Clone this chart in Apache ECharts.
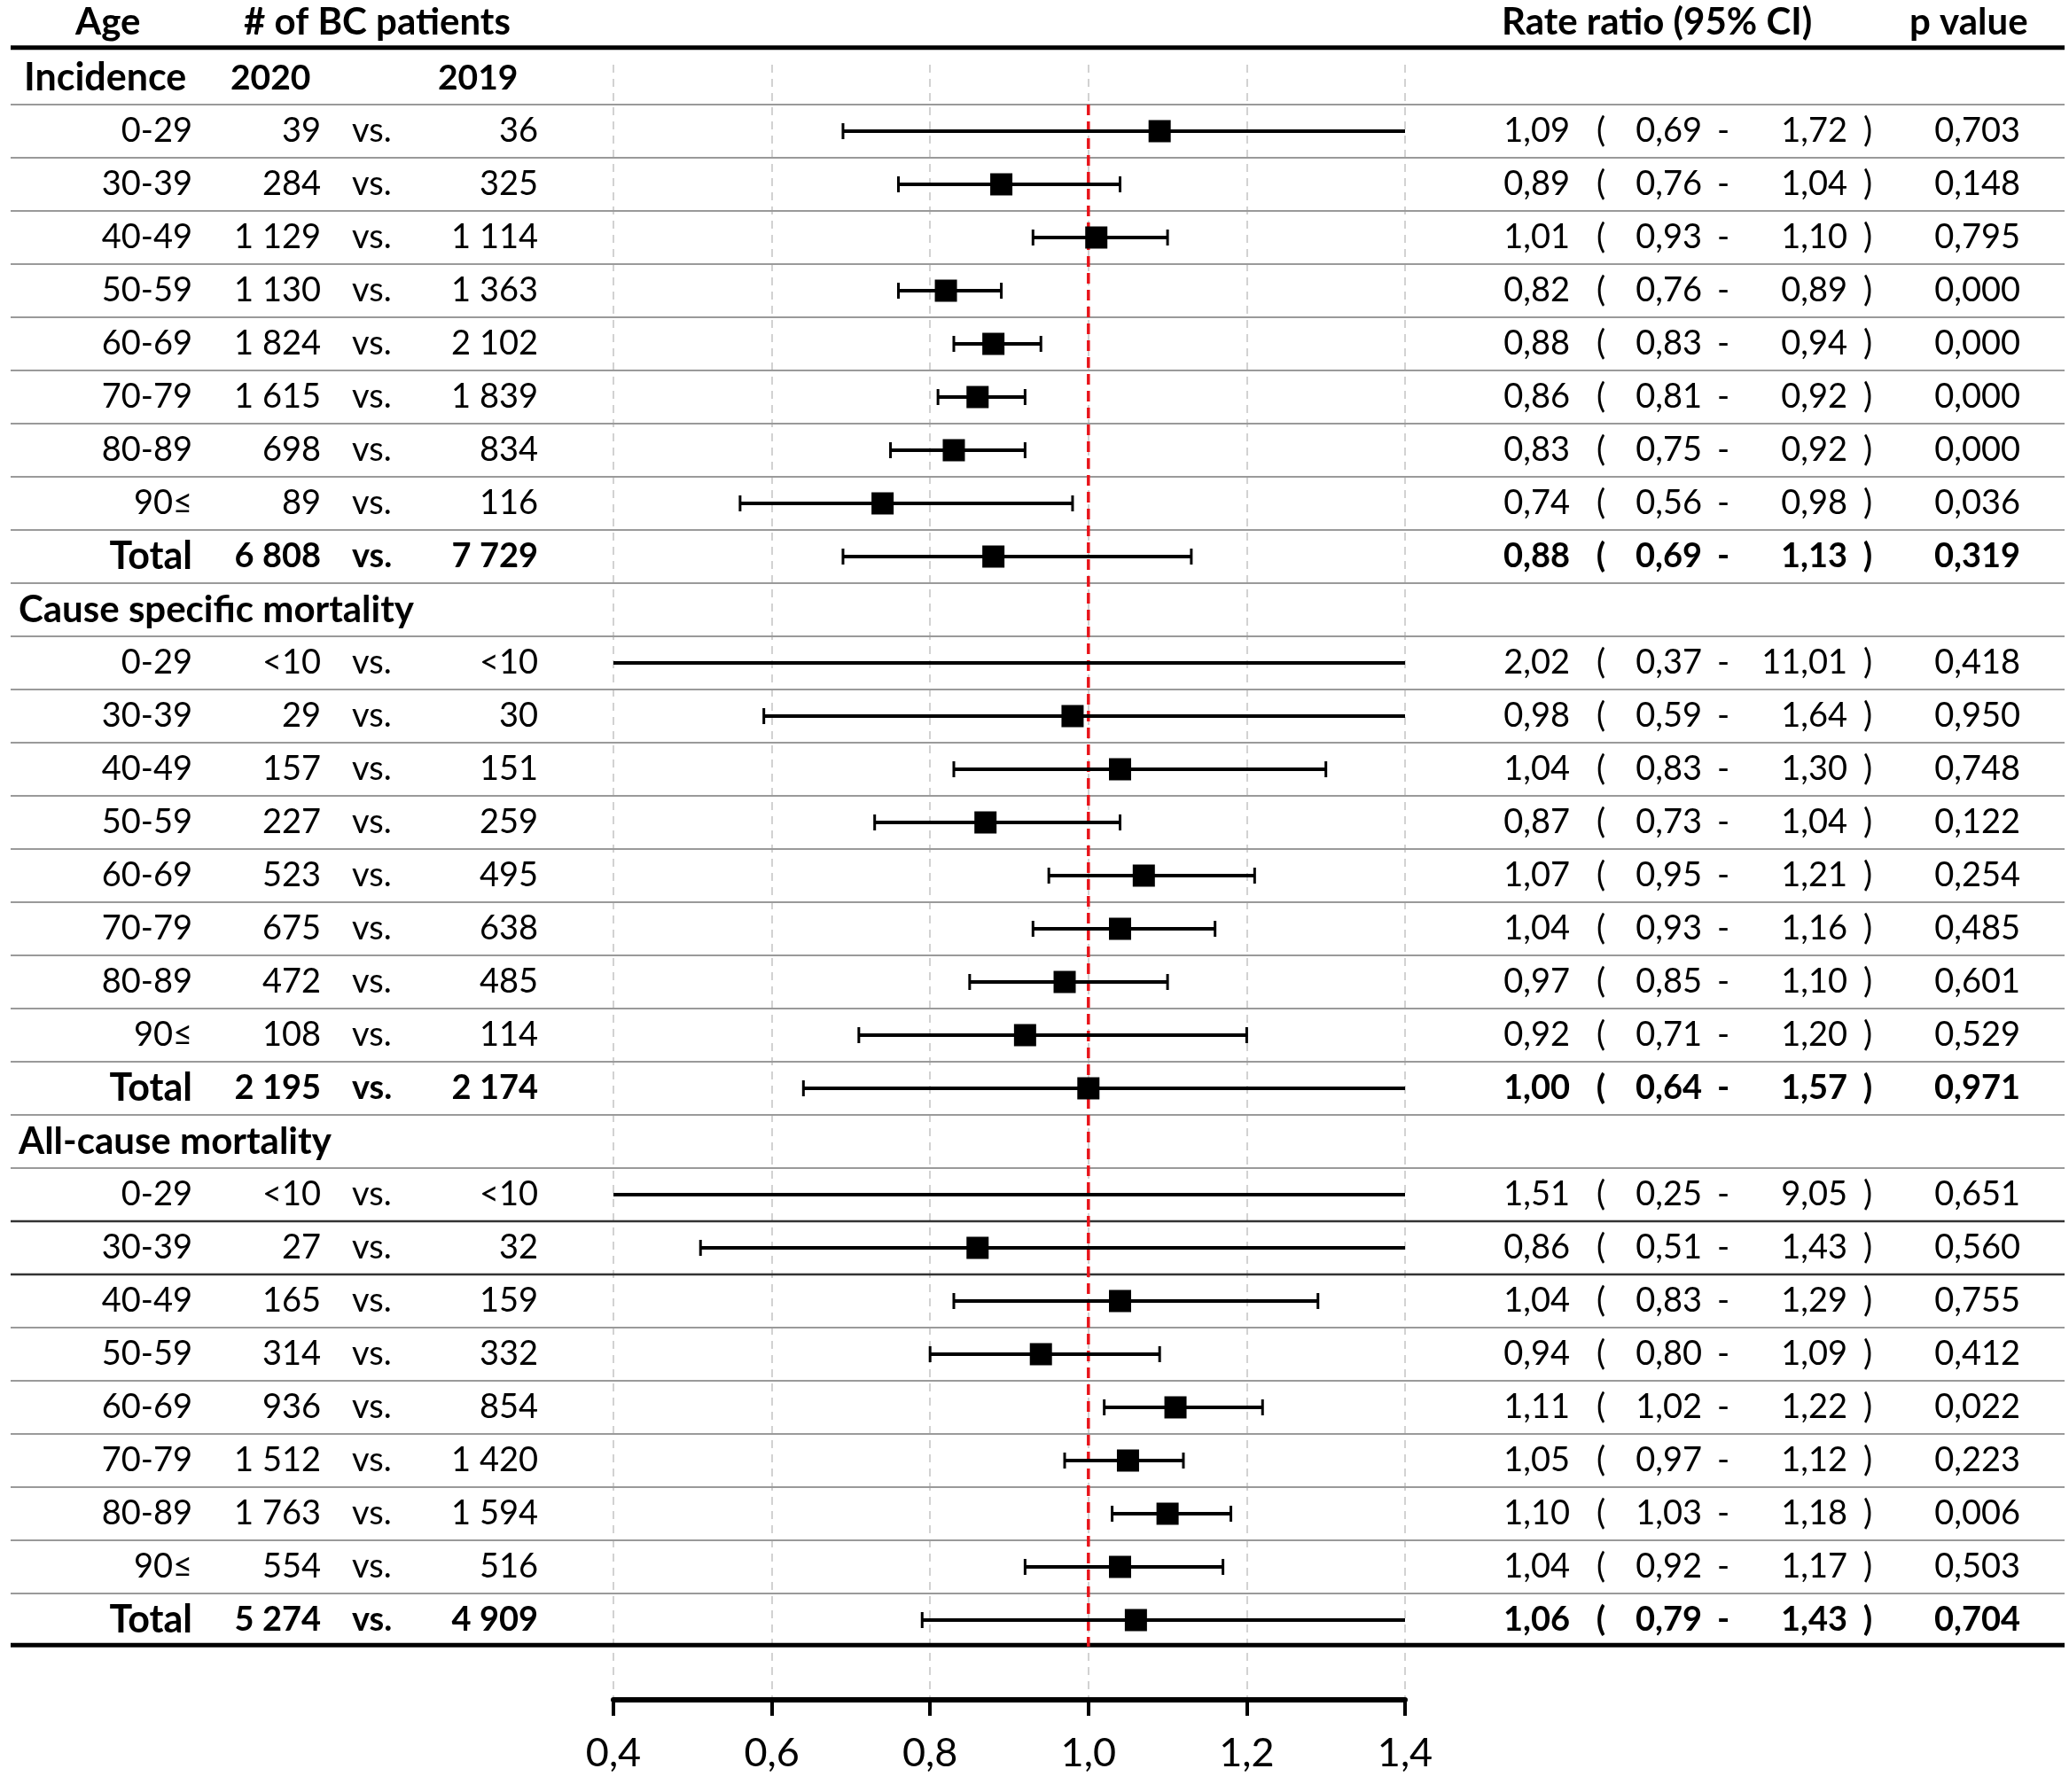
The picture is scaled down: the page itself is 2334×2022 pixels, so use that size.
<!DOCTYPE html>
<html>
<head>
<meta charset="utf-8">
<script src="https://cdn.jsdelivr.net/npm/echarts@6/dist/echarts.min.js"></script>
<style>
html, body { margin: 0; padding: 0; background: #fff; }
#forest { width: 2334px; height: 2022px; }
</style>
</head>
<body>
<div id="forest"></div>
<script>
// data
var sections = ['Incidence', 'Cause specific mortality', 'All-cause mortality'];
var ageGroups = ['0-29', '30-39', '40-49', '50-59', '60-69', '70-79', '80-89', '90≤', 'Total'];

var incN2020 = [39, 284, 1129, 1130, 1824, 1615, 698, 89, 6808];
var incN2019 = [36, 325, 1114, 1363, 2102, 1839, 834, 116, 7729];
var incRR   = [1.09, 0.89, 1.01, 0.82, 0.88, 0.86, 0.83, 0.74, 0.88];
var incLow  = [0.69, 0.76, 0.93, 0.76, 0.83, 0.81, 0.75, 0.56, 0.69];
var incHigh = [1.72, 1.04, 1.10, 0.89, 0.94, 0.92, 0.92, 0.98, 1.13];
var incP    = [0.703, 0.148, 0.795, 0.000, 0.000, 0.000, 0.000, 0.036, 0.319];

var csmN2020 = ['<10', 29, 157, 227, 523, 675, 472, 108, 2195];
var csmN2019 = ['<10', 30, 151, 259, 495, 638, 485, 114, 2174];
var csmRR   = [2.02, 0.98, 1.04, 0.87, 1.07, 1.04, 0.97, 0.92, 1.00];
var csmLow  = [0.37, 0.59, 0.83, 0.73, 0.95, 0.93, 0.85, 0.71, 0.64];
var csmHigh = [11.01, 1.64, 1.30, 1.04, 1.21, 1.16, 1.10, 1.20, 1.57];
var csmP    = [0.418, 0.950, 0.748, 0.122, 0.254, 0.485, 0.601, 0.529, 0.971];

var acmN2020 = ['<10', 27, 165, 314, 936, 1512, 1763, 554, 5274];
var acmN2019 = ['<10', 32, 159, 332, 854, 1420, 1594, 516, 4909];
var acmRR   = [1.51, 0.86, 1.04, 0.94, 1.11, 1.05, 1.10, 1.04, 1.06];
var acmLow  = [0.25, 0.51, 0.83, 0.80, 1.02, 0.97, 1.03, 0.92, 0.79];
var acmHigh = [9.05, 1.43, 1.29, 1.09, 1.22, 1.12, 1.18, 1.17, 1.43];
var acmP    = [0.651, 0.560, 0.755, 0.412, 0.022, 0.223, 0.006, 0.503, 0.704];

var xTicks = [0.4, 0.6, 0.8, 1.0, 1.2, 1.4];
var refValue = 1.0;

var headers = ['Age', '# of BC patients', 'Rate ratio (95% CI)', 'p value'];
var yearLabels = ['2020', '2019'];

// layout
var FONT = 'Lato, "Open Sans", "DejaVu Sans", sans-serif';
var TEXT_SIZE = 38;     // numbers
var HEAD_SIZE = 42;     // headings / section names
var W = 2334, H = 2022;
var ROW0_Y = 88, ROW_H = 60;   // pixel centre of row 0 and row height

var sectionData = [
  { n2020: incN2020, n2019: incN2019, rr: incRR, low: incLow, high: incHigh, p: incP },
  { n2020: csmN2020, n2019: csmN2019, rr: csmRR, low: csmLow, high: csmHigh, p: csmP },
  { n2020: acmN2020, n2019: acmN2019, rr: acmRR, low: acmLow, high: acmHigh, p: acmP }
];

function fmtCount(v) {
  if (typeof v !== 'number') return v;
  return String(v).replace(/\B(?=(\d{3})+(?!\d))/g, ' ');
}
function fmtDec(v, d) {
  return v.toFixed(d).replace('.', ',');
}

// table rows: [text, x, align, bold, size]
var tableRows = [];
tableRows.push({ row: -1.05, cells: [
  [headers[0], 85, 'left', true, HEAD_SIZE],
  [headers[1], 275, 'left', true, HEAD_SIZE],
  [headers[2], 1694, 'left', true, HEAD_SIZE],
  [headers[3], 2154, 'left', true, HEAD_SIZE]
]});

var forestData = [];
sectionData.forEach(function (s, k) {
  var head = { row: k * 10, cells: [[sections[k], k === 0 ? 27 : 21, 'left', true, k === 0 ? 43 : HEAD_SIZE]] };
  if (k === 0) {
    head.cells.push([yearLabels[0], 260, 'left', true, 39]);
    head.cells.push([yearLabels[1], 494, 'left', true, 39]);
  }
  tableRows.push(head);
  ageGroups.forEach(function (age, i) {
    var row = k * 10 + 1 + i;
    var b = age === 'Total';
    tableRows.push({ row: row, cells: [
      [age, 217, 'right', b, b ? 43 : TEXT_SIZE],
      [fmtCount(s.n2020[i]), 362, 'right', b],
      ['vs.', 397, 'left', b],
      [fmtCount(s.n2019[i]), 607, 'right', b],
      [fmtDec(s.rr[i], 2), 1771, 'right', b],
      ['(', 1806, 'center', b],
      [fmtDec(s.low[i], 2), 1920, 'right', b],
      ['-', 1944, 'center', b],
      [fmtDec(s.high[i], 2), 2084, 'right', b],
      [')', 2107, 'center', b],
      [fmtDec(s.p[i], 3), 2279, 'right', b]
    ]});
    forestData.push([s.rr[i], s.low[i], s.high[i], row]);
  });
});

// horizontal rules: [row, width, color]
var rules = [[-0.57, 5, '#000'], [29.47, 5, '#000']];
for (var r = 0; r < 29; r++) {
  var dark = (r === 21 || r === 22);
  rules.push([r + 0.5, dark ? 2.5 : 2, dark ? '#333' : '#9a9a9a']);
}

var xMin = xTicks[0], xMax = xTicks[xTicks.length - 1];
var plotLeft = 692, plotRight = W - 1585;
var plotMinRow = -0.25, plotMaxRow = 30.5;

var myChart = echarts.init(document.getElementById('forest'));

var option = {
  backgroundColor: '#fff',
  animation: false,
  grid: [
    { left: plotLeft, right: plotRight, top: ROW0_Y + plotMinRow * ROW_H, bottom: H - (ROW0_Y + plotMaxRow * ROW_H) },
    { left: 0, right: 0, top: 0, bottom: 0 }
  ],
  xAxis: [
    {
      type: 'value', gridIndex: 0, min: xMin, max: xMax, interval: 0.2,
      axisLine: { show: true, onZero: false, lineStyle: { color: '#000', width: 6 } },
      axisTick: { show: true, length: 18, lineStyle: { color: '#000', width: 4 } },
      axisLabel: {
        margin: 38, color: '#000', fontSize: 45, fontFamily: FONT,
        formatter: function (v) { return fmtDec(v, 1); }
      },
      splitLine: { show: true, lineStyle: { color: '#d2d2d2', width: 2, type: [9, 7] } }
    },
    { type: 'value', gridIndex: 1, min: 0, max: W, show: false }
  ],
  yAxis: [
    { type: 'value', gridIndex: 0, inverse: true, min: plotMinRow, max: plotMaxRow, show: false },
    { type: 'value', gridIndex: 1, inverse: true, min: -ROW0_Y / ROW_H, max: (H - ROW0_Y) / ROW_H, show: false }
  ],
  series: [
    {
      // row rules across the full width
      type: 'custom', xAxisIndex: 1, yAxisIndex: 1, silent: true, clip: false, z: 2,
      data: rules.map(function (d) { return [0, d[0]]; }),
      renderItem: function (params, api) {
        var d = rules[params.dataIndex];
        var a = api.coord([12, d[0]]), b = api.coord([W - 5, d[0]]);
        return {
          type: 'line',
          shape: { x1: a[0], y1: a[1], x2: b[0], y2: b[1] },
          style: { stroke: d[2], lineWidth: d[1] }
        };
      }
    },
    {
      // table text
      type: 'custom', xAxisIndex: 1, yAxisIndex: 1, silent: true, clip: false, z: 5,
      data: tableRows.map(function (t) { return [0, t.row]; }),
      renderItem: function (params, api) {
        var t = tableRows[params.dataIndex];
        return {
          type: 'group',
          children: t.cells.map(function (c) {
            var p = api.coord([c[1], t.row]);
            return {
              type: 'text',
              style: {
                text: c[0], x: p[0], y: p[1],
                fill: '#000', fontSize: c[4] || TEXT_SIZE, fontFamily: FONT,
                fontWeight: c[3] ? 'bold' : 'normal',
                align: c[2], verticalAlign: 'middle'
              }
            };
          })
        };
      }
    },
    {
      // reference line at 1,0
      type: 'custom', xAxisIndex: 0, yAxisIndex: 0, silent: true, clip: false, z: 3,
      data: [[refValue, 0.5, 29.5]],
      renderItem: function (params, api) {
        var a = api.coord([api.value(0), api.value(1)]);
        var b = api.coord([api.value(0), api.value(2)]);
        return {
          type: 'line',
          shape: { x1: a[0], y1: a[1], x2: b[0], y2: b[1] },
          style: { stroke: '#e8141b', lineWidth: 3.5, lineDash: [12, 7] }
        };
      }
    },
    {
      // confidence intervals and point estimates
      type: 'custom', xAxisIndex: 0, yAxisIndex: 0, silent: true, clip: false, z: 4,
      encode: { x: [0, 1, 2], y: 3 },
      data: forestData,
      renderItem: function (params, api) {
        var rr = api.value(0), lo = api.value(1), hi = api.value(2), row = api.value(3);
        var a = api.coord([Math.max(lo, xMin), row]);
        var b = api.coord([Math.min(hi, xMax), row]);
        var capH = 9, sq = 25;
        var kids = [{
          type: 'line',
          shape: { x1: a[0], y1: a[1], x2: b[0], y2: b[1] },
          style: { stroke: '#000', lineWidth: 4 }
        }];
        if (lo >= xMin) {
          kids.push({ type: 'line', shape: { x1: a[0], y1: a[1] - capH, x2: a[0], y2: a[1] + capH },
            style: { stroke: '#000', lineWidth: 3 } });
        }
        if (hi <= xMax) {
          kids.push({ type: 'line', shape: { x1: b[0], y1: b[1] - capH, x2: b[0], y2: b[1] + capH },
            style: { stroke: '#000', lineWidth: 3 } });
        }
        if (rr >= xMin && rr <= xMax) {
          var c = api.coord([rr, row]);
          kids.push({ type: 'rect', shape: { x: c[0] - sq / 2, y: c[1] - sq / 2, width: sq, height: sq },
            style: { fill: '#000' } });
        }
        return { type: 'group', children: kids };
      }
    }
  ]
};

myChart.setOption(option, true);
window.addEventListener('resize', function () {
  setTimeout(function () { myChart.resize(); }, 100);
});
</script>
</body>
</html>
